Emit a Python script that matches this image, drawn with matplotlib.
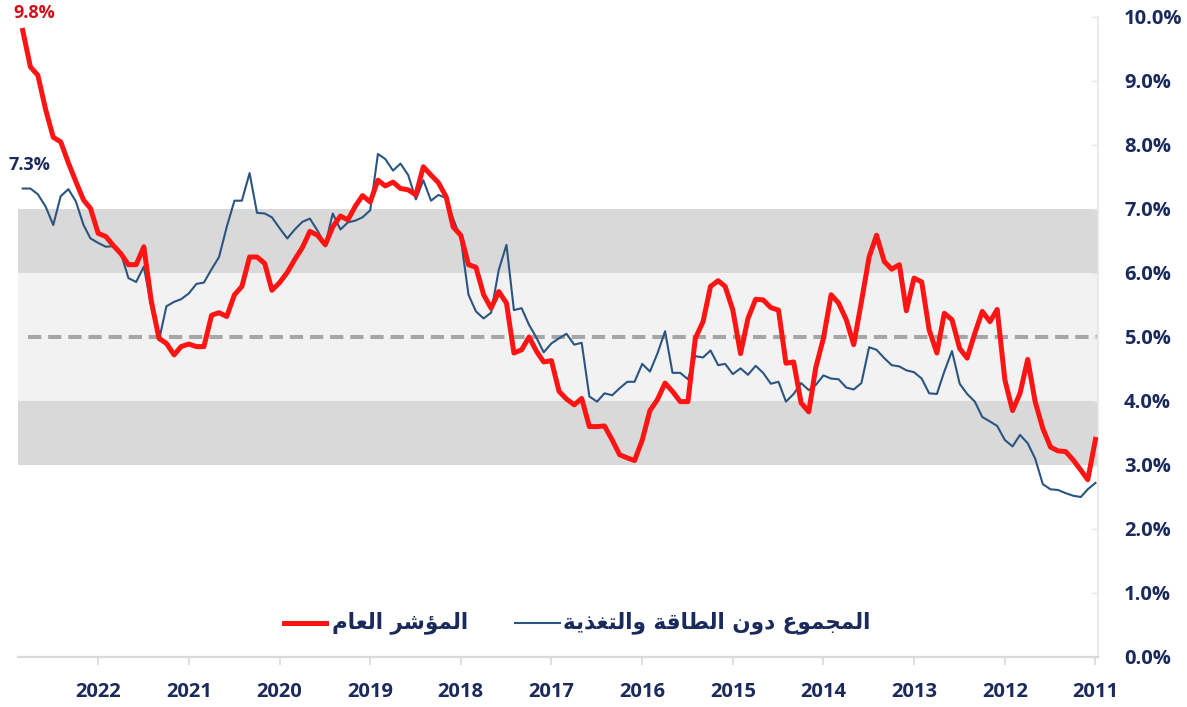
import matplotlib
matplotlib.use('Agg')
import matplotlib.pyplot as plt
import pandas as pd

# monthly values, latest first (Nov 2022 back to Jan 2011)
headline = [9.79, 9.22, 9.09, 8.56, 8.12, 8.05, 7.72, 7.43, 7.14, 7.01,
            6.62, 6.57, 6.43, 6.30, 6.13, 6.13, 6.41, 5.56, 4.98, 4.90,
            4.72, 4.85, 4.89, 4.85, 4.85, 5.34, 5.38, 5.32, 5.66, 5.79,
            6.25, 6.25, 6.15, 5.73, 5.85, 6.01, 6.21, 6.40, 6.65, 6.59,
            6.44, 6.72, 6.89, 6.83, 7.05, 7.21, 7.11, 7.45, 7.36, 7.42,
            7.32, 7.30, 7.22, 7.66, 7.53, 7.41, 7.19, 6.72, 6.59, 6.13,
            6.09, 5.66, 5.45, 5.71, 5.53, 4.75, 4.80, 5.00, 4.77, 4.61,
            4.63, 4.15, 4.03, 3.94, 4.04, 3.60, 3.60, 3.61, 3.39, 3.16,
            3.11, 3.07, 3.39, 3.85, 4.02, 4.28, 4.15, 3.99, 3.99, 4.98,
            5.24, 5.79, 5.88, 5.79, 5.42, 4.74, 5.29, 5.59, 5.58, 5.46,
            5.42, 4.59, 4.61, 3.97, 3.83, 4.52, 4.98, 5.66, 5.53, 5.27,
            4.88, 5.55, 6.25, 6.59, 6.18, 6.06, 6.13, 5.41, 5.92, 5.86,
            5.11, 4.75, 5.37, 5.27, 4.82, 4.67, 5.06, 5.40, 5.24, 5.43,
            4.33, 3.85, 4.12, 4.65, 3.99, 3.57, 3.28, 3.22, 3.21, 3.08,
            2.92, 2.77, 3.40]
core = [7.32, 7.32, 7.23, 7.04, 6.75, 7.20, 7.31, 7.12, 6.75, 6.54,
        6.47, 6.41, 6.42, 6.30, 5.92, 5.86, 6.10, 5.47, 4.95, 5.48,
        5.55, 5.59, 5.68, 5.83, 5.85, 6.06, 6.25, 6.72, 7.13, 7.13,
        7.56, 6.94, 6.93, 6.87, 6.70, 6.54, 6.68, 6.80, 6.85, 6.66,
        6.44, 6.93, 6.68, 6.79, 6.82, 6.87, 6.98, 7.86, 7.78, 7.60,
        7.71, 7.53, 7.15, 7.45, 7.13, 7.22, 7.17, 6.85, 6.54, 5.66,
        5.40, 5.29, 5.38, 6.05, 6.44, 5.42, 5.45, 5.19, 4.98, 4.76,
        4.90, 4.98, 5.05, 4.88, 4.91, 4.07, 3.99, 4.12, 4.09, 4.20,
        4.30, 4.30, 4.58, 4.46, 4.74, 5.09, 4.44, 4.44, 4.34, 4.70,
        4.68, 4.79, 4.56, 4.58, 4.42, 4.51, 4.41, 4.55, 4.44, 4.27,
        4.30, 3.99, 4.11, 4.28, 4.17, 4.25, 4.40, 4.35, 4.34, 4.21,
        4.18, 4.28, 4.84, 4.80, 4.67, 4.56, 4.54, 4.48, 4.45, 4.35,
        4.12, 4.11, 4.46, 4.78, 4.27, 4.11, 3.99, 3.75, 3.68, 3.61,
        3.39, 3.29, 3.47, 3.34, 3.10, 2.70, 2.62, 2.61, 2.56, 2.52,
        2.50, 2.62, 2.72]
years = list(range(2011, 2023))
yticks = [0, 1, 2, 3, 4, 5, 6, 7, 8, 9, 10]
label_headline = 'المؤشر العام'
label_core = 'المجموع دون الطاقة والتغذية'

months = pd.date_range('2011-01-01', periods=len(headline), freq='MS')
headline = headline[::-1]
core = core[::-1]

# matplotlib has no arabic shaping, so map letters to presentation forms by hand
FORMS = {  # isolated, final, initial, medial
    'ا': ('\uFE8D', '\uFE8E', None, None),
    'ل': ('\uFEDD', '\uFEDE', '\uFEDF', '\uFEE0'),
    'م': ('\uFEE1', '\uFEE2', '\uFEE3', '\uFEE4'),
    'ؤ': ('\uFE85', '\uFE86', None, None),
    'ش': ('\uFEB5', '\uFEB6', '\uFEB7', '\uFEB8'),
    'ر': ('\uFEAD', '\uFEAE', None, None),
    'ع': ('\uFEC9', '\uFECA', '\uFECB', '\uFECC'),
    'ج': ('\uFE9D', '\uFE9E', '\uFE9F', '\uFEA0'),
    'و': ('\uFEED', '\uFEEE', None, None),
    'د': ('\uFEA9', '\uFEAA', None, None),
    'ن': ('\uFEE5', '\uFEE6', '\uFEE7', '\uFEE8'),
    'ط': ('\uFEC1', '\uFEC2', '\uFEC3', '\uFEC4'),
    'ق': ('\uFED5', '\uFED6', '\uFED7', '\uFED8'),
    'ة': ('\uFE93', '\uFE94', None, None),
    'ت': ('\uFE95', '\uFE96', '\uFE97', '\uFE98'),
    'غ': ('\uFECD', '\uFECE', '\uFECF', '\uFED0'),
    'ذ': ('\uFEAB', '\uFEAC', None, None),
    'ي': ('\uFEF1', '\uFEF2', '\uFEF3', '\uFEF4'),
}


def shape(txt):
    out = []
    for i, ch in enumerate(txt):
        if ch not in FORMS:
            out.append(ch)
            continue
        prev = txt[i - 1] if i > 0 else ''
        nxt = txt[i + 1] if i + 1 < len(txt) else ''
        f = FORMS[ch]
        join_prev = prev in FORMS and FORMS[prev][2] is not None
        join_next = f[2] is not None and nxt in FORMS
        if join_prev and join_next:
            out.append(f[3])
        elif join_prev:
            out.append(f[1])
        elif join_next:
            out.append(f[2])
        else:
            out.append(f[0])
    return ''.join(out)[::-1]


navy = '#1b2a5c'
red = '#ff1414'
blue = '#2b5580'
plt.rcParams['font.family'] = ['Open Sans', 'DejaVu Sans']

fig = plt.figure(figsize=(11.87, 7.07), dpi=100)
ax = fig.add_axes([18 / 1187, 50 / 707, 1079.7 / 1187, 640 / 707])

ax.axhspan(3, 4, color='#d9d9d9', lw=0, zorder=0)
ax.axhspan(4, 6, color='#f2f2f2', lw=0, zorder=0)
ax.axhspan(6, 7, color='#d9d9d9', lw=0, zorder=0)
ax.axhline(5, xmin=0.009, xmax=1, color='#a6a6a6', lw=2.9, dashes=(3.3, 1.7), zorder=1)

ax.plot(months, core, color=blue, lw=1.5, zorder=3)
ax.plot(months, headline, color=red, lw=3.6, zorder=4)

ax.set_xlim(pd.Timestamp('2022-11-20'), pd.Timestamp('2010-12-23'))
ax.set_ylim(0, 10)

ax.set_xticks([pd.Timestamp(f'{y}-01-01') for y in years])
ax.set_xticklabels([str(y) for y in years])
ax.set_yticks(yticks)
ax.set_yticklabels([f'{v:.1f}%' for v in yticks])
ax.yaxis.tick_right()

for s in ['top', 'left']:
    ax.spines[s].set_visible(False)
ax.spines['bottom'].set_color('#d9d9d9')
ax.spines['bottom'].set_linewidth(1.6)
ax.spines['right'].set_color('#e6e6e6')
ax.spines['right'].set_linewidth(1.2)

ax.tick_params(axis='x', direction='out', length=6, width=1.2, color='#d9d9d9',
               pad=12, labelsize=14.5, labelcolor=navy)
ax.tick_params(axis='y', direction='in', length=4, width=1, color='#e6e6e6',
               pad=19, labelsize=14.5, labelcolor=navy)
for lab in ax.get_xticklabels() + ax.get_yticklabels():
    lab.set_fontweight('bold')
for lab in ax.get_yticklabels():
    lab.set_horizontalalignment('left')

# latest value labels at the left end
fig.text(34 / 1187, 1 - 13 / 707, f'{headline[-1]:.1f}%', color='#d0101a', fontsize=13,
         fontweight='bold', ha='center', va='center')
fig.text(29 / 1187, 1 - 165 / 707, f'{core[-1]:.1f}%', color=navy, fontsize=13,
         fontweight='bold', ha='center', va='center')

# legend drawn by hand (RTL labels with the line on the left)
ly = 1 - 623 / 707
fig.add_artist(plt.Line2D([284 / 1187, 326 / 1187], [ly, ly], color=red, lw=3.6))
fig.text(468 / 1187, ly, shape(label_headline), color=navy, fontsize=15.5, fontweight='bold',
         family='DejaVu Sans', ha='right', va='center')
fig.add_artist(plt.Line2D([515 / 1187, 560 / 1187], [ly, ly], color=blue, lw=1.5))
fig.text(870 / 1187, ly, shape(label_core), color=navy, fontsize=15.5, fontweight='bold',
         family='DejaVu Sans', ha='right', va='center')

fig.savefig('out.png', dpi=100)
